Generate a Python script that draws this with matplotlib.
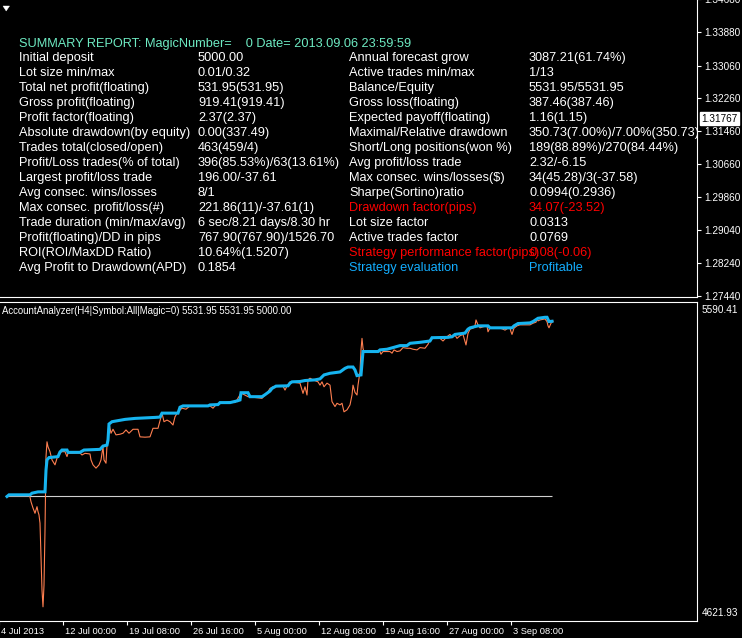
import matplotlib
matplotlib.use('Agg')
import matplotlib.pyplot as plt
from matplotlib.patches import Polygon
from matplotlib.transforms import ScaledTranslation

plt.rcParams['font.family'] = ['Liberation Sans', 'DejaVu Sans']

# ---------------- data ----------------
title = "SUMMARY REPORT: MagicNumber=    0 Date= 2013.09.06 23:59:59"

left_labels = ["Initial deposit", "Lot size min/max", "Total net profit(floating)",
               "Gross profit(floating)", "Profit factor(floating)",
               "Absolute drawdown(by equity)", "Trades total(closed/open)",
               "Profit/Loss trades(% of total)", "Largest profit/loss trade",
               "Avg consec. wins/losses", "Max consec. profit/loss(#)",
               "Trade duration (min/max/avg)", "Profit(floating)/DD in pips",
               "ROI(ROI/MaxDD Ratio)", "Avg Profit to Drawdown(APD)"]
left_values = ["5000.00", "0.01/0.32", "531.95(531.95)", "919.41(919.41)", "2.37(2.37)",
               "0.00(337.49)", "463(459/4)", "396(85.53%)/63(13.61%)", "196.00/-37.61",
               "8/1", "221.86(11)/-37.61(1)", "6 sec/8.21 days/8.30 hr",
               "767.90(767.90)/1526.70", "10.64%(1.5207)", "0.1854"]
right_labels = ["Annual forecast grow", "Active trades min/max", "Balance/Equity",
                "Gross loss(floating)", "Expected payoff(floating)",
                "Maximal/Relative drawdown", "Short/Long positions(won %)",
                "Avg profit/loss trade", "Max consec. wins/losses($)",
                "Sharpe(Sortino)ratio", "Drawdown factor(pips)", "Lot size factor",
                "Active trades factor", "Strategy performance factor(pips)",
                "Strategy evaluation"]
right_values = ["3087.21(61.74%)", "1/13", "5531.95/5531.95", "387.46(387.46)", "1.16(1.15)",
                "350.73(7.00%)/7.00%(350.73)", "189(88.89%)/270(84.44%)", "2.32/-6.15",
                "34(45.28)/3(-37.58)", "0.0994(0.2936)", "34.07(-23.52)", "0.0313",
                "0.0769", "0.08(-0.06)", "Profitable"]
right_kinds = ["n", "n", "n", "n", "n", "n", "n", "n", "n", "n", "red", "n", "n", "red", "blue"]

price_ticks = [1.34680, 1.33880, 1.33060, 1.32260, 1.31460, 1.30660,
               1.29860, 1.29040, 1.28240, 1.27440]
current_price = 1.31767

initial_deposit = 5000.00
equity_axis_min = 4621.93
equity_axis_max = 5590.41

date_tick_bars = [0, 32, 64, 96, 128, 160, 192, 224, 256]
date_tick_labels = ["4 Jul 2013", "12 Jul 00:00", "19 Jul 08:00", "26 Jul 16:00",
                    "5 Aug 00:00", "12 Aug 08:00", "19 Aug 16:00", "27 Aug 00:00",
                    "3 Sep 08:00"]

balance_bars = [4, 5, 15.5, 16.5, 19.5, 23, 23.5, 24, 25, 29.5, 30.5, 31.5, 34, 34.5,
                40.5, 42.5, 50.5, 52, 54, 54.5, 55, 56.5, 63, 68, 78, 80.5, 81.5, 89.5,
                90.5, 92, 104.5, 105.5, 109.5, 110.5, 115.5, 119, 120.5, 121, 124.5,
                125.5, 131.5, 133, 135.5, 136.5, 138.5, 144.5, 145.5, 146.5, 150.5, 153,
                158, 160.5, 162.5, 165.5, 170.5, 173, 174.5, 177, 178, 179, 181, 181.5,
                182, 189.5, 190.5, 194, 197, 200.5, 204, 205.5, 210.5, 215.5, 216.5,
                224.5, 226.5, 228, 233, 234.5, 235.5, 239.5, 244.5, 245.5, 256.5, 257.5,
                259.5, 265.5, 267, 269.5, 273, 274, 275, 276.5]
balance = [5000, 5005, 5005, 5010, 5014, 5014, 5080, 5111, 5118, 5121, 5135, 5141, 5141,
           5134, 5134, 5141, 5143, 5153, 5156, 5171, 5220, 5227, 5234, 5237, 5240, 5241,
           5253, 5253, 5271, 5275, 5275, 5278, 5279, 5285, 5285, 5290, 5293, 5315, 5315,
           5303, 5303, 5309, 5320, 5328, 5335, 5336, 5344, 5348, 5349, 5352, 5354, 5357,
           5369, 5374, 5378, 5389, 5393, 5393, 5384, 5367, 5369, 5405, 5440, 5440, 5445,
           5447, 5452, 5458, 5458, 5465, 5468, 5472, 5482, 5483, 5485, 5492, 5496, 5508,
           5512, 5518, 5518, 5512, 5512, 5518, 5525, 5527, 5531, 5541, 5544, 5544, 5531,
           5531.95]

equity_bars = [4, 5.5, 15, 15.5, 16, 17, 18, 18.5, 19, 19.5, 20, 20.5, 21, 21.5, 22, 22.5,
               23, 23.5, 24, 24.5, 25.5, 26.5, 28, 29, 30, 31, 33, 34, 34.5, 40.5, 41.5,
               43, 45.5, 46, 47, 48.5, 50, 51, 52, 52.5, 53.5, 54, 55, 56, 57, 58.5, 60.5,
               62, 63.5, 65, 67, 69.5, 70.5, 73, 75.5, 77, 79.5, 81.5, 82.5, 84, 85.5, 87,
               88, 89.5, 91.5, 93.5, 95.5, 105.5, 107, 108, 110.5, 115.5, 118, 119, 121,
               124.5, 131.5, 133, 134.5, 135.5, 137, 142, 143, 144, 145.5, 149, 150.5, 152,
               153, 154, 154.5, 155.5, 157, 159.5, 160.5, 161.5, 162.5, 164, 165.5, 166.5,
               168, 169, 170.5, 171.5, 172.5, 174, 175.5, 176.5, 177, 178, 179, 179.5,
               180.5, 181, 181.5, 182, 182.5, 183.5, 190.5, 191, 192, 195.5, 196.5, 197.5,
               199, 200.5, 202, 204, 205.5, 207, 209, 210.5, 213, 214.5, 215.5, 216.5,
               220.5, 222, 224, 225.5, 226.5, 228, 229, 230.5, 232, 233, 233.5, 234.5,
               235.5, 237, 238, 238.5, 239.5, 240.5, 242, 244, 244.5, 245.5, 250.5, 252,
               253, 254.5, 255.5, 256, 256.5, 257.5, 259, 260.5, 265.5, 267, 268.5, 269,
               269.5, 270.5, 273, 274, 274.5, 275, 276, 277]
equity = [5000, 5002, 5002, 4998, 4984, 4965, 4949, 4959, 4969, 4954, 4944, 4919, 4813,
          4716, 4665, 4731, 4898, 5121, 5166, 5151, 5136, 5111, 5096, 5116, 5126, 5136,
          5136, 5121, 5131, 5132, 5126, 5131, 5129, 5111, 5096, 5086, 5096, 5111, 5151,
          5111, 5101, 5156, 5222, 5192, 5204, 5187, 5189, 5192, 5202, 5192, 5204, 5204,
          5181, 5180, 5181, 5207, 5207, 5253, 5227, 5232, 5227, 5217, 5242, 5257, 5268,
          5265, 5275, 5275, 5268, 5275, 5282, 5288, 5285, 5293, 5314, 5303, 5298, 5308,
          5318, 5328, 5333, 5335, 5323, 5335, 5348, 5345, 5344, 5313, 5333, 5308, 5354,
          5359, 5354, 5348, 5338, 5348, 5333, 5344, 5338, 5288, 5273, 5283, 5278, 5283,
          5257, 5263, 5278, 5308, 5338, 5316, 5308, 5338, 5379, 5445, 5480, 5450, 5438,
          5440, 5440, 5432, 5440, 5440, 5435, 5445, 5440, 5442, 5452, 5450, 5450, 5447,
          5445, 5452, 5450, 5462, 5475, 5482, 5480, 5472, 5485, 5492, 5482, 5490, 5480,
          5488, 5492, 5470, 5460, 5495, 5508, 5511, 5518, 5536, 5521, 5512, 5515, 5518,
          5500, 5512, 5511, 5508, 5505, 5511, 5511, 5500, 5492, 5511, 5518, 5521, 5521,
          5526, 5529, 5539, 5533, 5536, 5539, 5531, 5518, 5512, 5526, 5531.95]

# ---------------- layout ----------------
W, H = 742, 638
fig = plt.figure(figsize=(W / 100, H / 100), dpi=100, facecolor='black')


def fx(px):
    return px / W


def fy(py):
    return 1 - py / H


TXT = '#FFFFFF'
COL = {'n': '#FFFFFF', 'red': '#FF0000', 'blue': '#14AEFF'}

# ---- top (price) panel ----
ax1 = fig.add_axes([0, fy(297), fx(697), 307 / H])
ax1.set_facecolor('black')
ax1.set_xlim(0, 1)
ax1.set_ylim(1.27416, 1.34905)
ax1.set_xticks([])
ax1.yaxis.tick_right()
ax1.set_yticks(price_ticks)
ax1.set_yticklabels([f"{v:.5f}" for v in price_ticks])
ax1.tick_params(axis='y', colors='white', labelcolor='white', labelsize=7.2,
                length=3, width=0.8, pad=2)
for s in ['left', 'top']:
    ax1.spines[s].set_visible(False)
for s in ['right', 'bottom']:
    ax1.spines[s].set_color('white')
    ax1.spines[s].set_linewidth(0.8)

ax1.annotate(f"{current_price:.5f}", xy=(1, current_price),
             xycoords=('axes fraction', 'data'), xytext=(3, 0),
             textcoords='offset points', va='center', ha='left', fontsize=7.2,
             color='black', annotation_clip=False,
             bbox=dict(boxstyle='square,pad=0.12', fc='white', ec='white'))

FS = 9.2
ax1.text(fx(19), fy(47), title, transform=fig.transFigure, color='#6EEBC3',
         fontsize=FS, va='baseline', ha='left', clip_on=True)
for i in range(len(left_labels)):
    yb = fy(61 + 15 * i)
    ax1.text(fx(19), yb, left_labels[i], transform=fig.transFigure, color=TXT,
             fontsize=FS, va='baseline', clip_on=True)
    ax1.text(fx(198), yb, left_values[i], transform=fig.transFigure, color=TXT,
             fontsize=FS, va='baseline', clip_on=True)
    c = COL[right_kinds[i]]
    ax1.text(fx(349), yb, right_labels[i], transform=fig.transFigure, color=c,
             fontsize=FS, va='baseline', clip_on=True)
    ax1.text(fx(529), yb, right_values[i], transform=fig.transFigure, color=c,
             fontsize=FS, va='baseline', clip_on=True)

# small one-click arrow in the corner
tri = Polygon([(fx(3), fy(6)), (fx(9.5), fy(6)), (fx(6.2), fy(11))], closed=True,
              transform=fig.transFigure, fc='white', ec='white', lw=0.3)
fig.patches.append(tri)

# ---- bottom (indicator) panel ----
ax2 = fig.add_axes([fx(-10), fy(621), fx(707), 319 / H])
ax2.set_facecolor('black')
ax2.set_xlim(-4.5, 349)
ax2.set_ylim(equity_axis_min, equity_axis_max)
ax2.set_yticks([])
for s in ['top', 'right', 'bottom']:
    ax2.spines[s].set_color('white')
    ax2.spines[s].set_linewidth(0.8)
ax2.spines['left'].set_visible(False)

ax2.hlines(initial_deposit, balance_bars[0], balance_bars[-1], colors='#D0D0D0',
           linewidth=0.8, zorder=1)
ax2.plot(equity_bars, equity, color='#FF7F50', linewidth=0.8, zorder=2)
ax2.plot(balance_bars, balance, color='#16B4F0', linewidth=2.2, zorder=3,
         solid_joinstyle='miter')

ax2.set_xticks(date_tick_bars)
ax2.set_xticklabels(date_tick_labels)
ax2.tick_params(axis='x', colors='white', labelcolor='white', labelsize=6.7,
                length=3, width=0.8, pad=1.5, direction='out')
off = ScaledTranslation(2 / 100, 0, fig.dpi_scale_trans)
for lbl in ax2.get_xticklabels():
    lbl.set_ha('left')
    lbl.set_transform(lbl.get_transform() + off)

ind_label = (f"AccountAnalyzer(H4|Symbol:All|Magic=0) {balance[-1]:.2f} "
             f"{equity[-1]:.2f} {initial_deposit:.2f}")
fig.text(fx(2), fy(311), ind_label, color='white', fontsize=6.9, va='center', ha='left')
fig.text(fx(702), fy(310), f"{equity_axis_max:.2f}", color='white', fontsize=7.2,
         va='center', ha='left')
fig.text(fx(702), fy(613), f"{equity_axis_min:.2f}", color='white', fontsize=7.2,
         va='center', ha='left')

fig.savefig('out.png', dpi=100, facecolor='black')
